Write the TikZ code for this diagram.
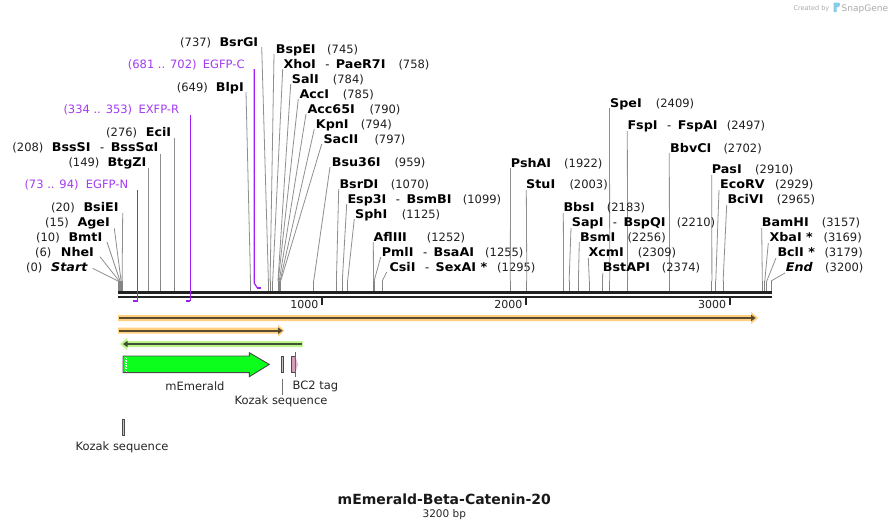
\documentclass[tikz,border=0pt]{standalone}
\usepackage{fontspec}
\setmainfont{DejaVu Sans}
\newfontfamily\enzf{DejaVu Sans}[FakeStretch=1.06]
\usetikzlibrary{arrows.meta}
\definecolor{cutgray}{HTML}{8F8F8F}
\definecolor{stubgray}{HTML}{858585}
\definecolor{barblack}{HTML}{222222}
\definecolor{primc}{HTML}{A43CF0}
\definecolor{primline}{HTML}{A020F0}
\definecolor{orband}{HTML}{FFD080}
\definecolor{ordark}{HTML}{5A4A30}
\definecolor{grband}{HTML}{BEF58C}
\definecolor{grdark}{HTML}{3F5233}
\definecolor{emer}{HTML}{0CFF1C}
\definecolor{outl}{HTML}{4A4A4A}
\definecolor{kozfill}{HTML}{C4C4C4}
\definecolor{bcfill}{HTML}{D29EBA}
\definecolor{bcfill2}{HTML}{E4C0D2}
\definecolor{wm}{HTML}{ABABAB}
\definecolor{logoblue}{HTML}{86CCEA}
\tikzset{
  nm/.style={inner sep=0pt, font=\enzf\bfseries\fontsize{12}{14}\selectfont, text=black},
  nb/.style={inner sep=0pt, font=\fontsize{11.5}{14}\selectfont, text=black!88},
  prim/.style={inner sep=0pt, font=\fontsize{11.5}{14}\selectfont, text=primc},
  flab/.style={inner sep=0pt, font=\fontsize{11.5}{14}\selectfont, text=black!85},
  cut/.style={draw=cutgray, line width=0.8pt},
  stub/.style={draw=stubgray, line width=1pt},
  primln/.style={draw=primline, line width=1.2pt},
  primmark/.style={draw=primline, line width=2pt},
  barline/.style={draw=barblack, line width=2.5pt},
  tickln/.style={draw=barblack, line width=1.8pt},
  ticklab/.style={inner sep=0pt, font=\fontsize{11}{13}\selectfont, text=black!88},
  featout/.style={draw=outl, line width=0.9pt},
}
\newcommand\dsh{\hspace{9.5pt}{\normalfont\fontsize{11.5}{14}\selectfont -}\hspace{6.5pt}}
% left-side label: id, number, numberX, name, nameX, centreY, lineStartX, lineStartY, siteX
\newcommand\enzL[9]{%
  \node[nb, anchor=base west] (#1p) at (#3,#6+4.7) {#2};
  \node[nm, anchor=base west] (#1n) at (#5,#6+4.7) {#4};
  \coordinate (#1s) at (#7,#8);
  \coordinate (#1k) at (#9,281);
  \coordinate (#1b) at (#9,291);
  \draw[cut] (#1s) -- (#1k);
  \draw[stub] (#1k) -- (#1b);
}
% right-side label: id, name, nameX, number, numberX, centreY, lineStartX, lineStartY, siteX
\newcommand\enzR[9]{%
  \node[nm, anchor=base west] (#1n) at (#3,#6+4.7) {#2};
  \node[nb, anchor=base west] (#1p) at (#5,#6+4.7) {#4};
  \coordinate (#1s) at (#7,#8);
  \coordinate (#1k) at (#9,281);
  \coordinate (#1b) at (#9,291);
  \draw[cut] (#1s) -- (#1k);
  \draw[stub] (#1k) -- (#1b);
}
\begin{document}
\begin{tikzpicture}[x=1pt,y=-1pt]
\useasboundingbox (0,0) rectangle (890,530);
\fill[white] (0,0) rectangle (890,530);

% watermark
\node[anchor=base east, text=wm, font=\fontsize{6.5}{8}\selectfont, inner sep=0pt] (wm1) at (829.5,10) {Created by};
\fill[logoblue] (833.5,2.5) -- (838.5,2.5) to[out=0,in=90] (840,5) to[out=-90,in=0] (836.5,7.5) -- (836.5,12) -- (833.5,12) -- cycle;
\node[anchor=base west, text=wm, font=\fontsize{9}{11}\selectfont, inner sep=0pt] (wm2) at (841.5,11) {SnapGene};

% sequence bar
\coordinate (bl1) at (118,292.3); \coordinate (br1) at (771.5,292.3);
\coordinate (bl2) at (118,296.9); \coordinate (br2) at (771.5,296.9);
\draw[barline] (bl1) -- (br1);
\draw[barline] (bl2) -- (br2);

% ticks
\coordinate (t1a) at (322,298); \coordinate (t1b) at (322,304.5);
\coordinate (t2a) at (526,298); \coordinate (t2b) at (526,304.5);
\coordinate (t3a) at (730,298); \coordinate (t3b) at (730,304.5);
\draw[tickln] (t1a) -- (t1b);
\draw[tickln] (t2a) -- (t2b);
\draw[tickln] (t3a) -- (t3b);
\node[ticklab, anchor=base east] (tl1) at (318.5,308.3) {1000};
\node[ticklab, anchor=base east] (tl2) at (522.5,308.3) {2000};
\node[ticklab, anchor=base east] (tl3) at (726.3,308.3) {3000};

% left labels
\enzL{start}{(0)}{26}{\itshape Start}{51}{266.7}{92.7}{268.3}{118}
\enzL{nhe}{(6)}{35}{NheI}{60.7}{251.7}{100}{256.7}{119.2}
\enzL{bmt}{(10)}{36}{BmtI}{68.3}{236.7}{107}{242}{120}
\enzL{age}{(15)}{45}{AgeI}{77.3}{222}{114.3}{228.3}{121.1}
\enzL{bsie}{(20)}{51}{BsiEI}{83.3}{206.7}{122.7}{213}{122.1}
\enzL{btgz}{(149)}{68.3}{BtgZI}{107.3}{162}{148.4}{168}{148.4}
\enzL{bsss}{(208)}{12.3}{BssSI\dsh BssSαI}{51.7}{147}{160.5}{154}{160.5}
\enzL{eci}{(276)}{106}{EciI}{145.7}{131.7}{174.3}{138}{174.3}
\enzL{blp}{(649)}{176.7}{BlpI}{215.7}{87}{246}{92}{250.5}
\enzL{bsrg}{(737)}{180}{BsrGI}{219.3}{41.7}{261.7}{47}{268.4}

% right labels
\enzR{bspe}{BspEI}{275.7}{(745)}{327}{48.7}{274}{54}{270.1}
\enzR{xho}{XhoI\dsh PaeR7I}{283.3}{(758)}{398.3}{64}{282.7}{69}{272.7}
\enzR{sal}{SalI}{291.7}{(784)}{332.7}{79}{290.7}{84}{278}
\enzR{acc}{AccI}{299.3}{(785)}{342.7}{94}{298.3}{99}{278.2}
\enzR{accsf}{Acc65I}{307.3}{(790)}{369.3}{109}{306}{114}{279.2}
\enzR{kpn}{KpnI}{315.7}{(794)}{360.7}{124}{314.3}{129}{280.1}
\enzR{sac}{SacII}{323.3}{(797)}{374.3}{139}{321.7}{144}{280.7}
\enzR{bsu}{Bsu36I}{331.7}{(959)}{394.3}{162}{330}{167}{313.7}
\enzR{bsrd}{BsrDI}{339.3}{(1070)}{390.7}{184}{338.7}{189}{336.4}
\enzR{esp}{Esp3I\dsh BsmBI}{347.3}{(1099)}{462.7}{199}{346.7}{204}{342.3}
\enzR{sph}{SphI}{355}{(1125)}{401.7}{214}{354.3}{219}{347.6}
\enzR{afl}{AflIII}{373.3}{(1252)}{426.7}{237}{373.3}{242}{373.5}
\enzR{pml}{PmlI\dsh BsaAI}{381.7}{(1255)}{485}{252}{380.7}{257}{374.1}
\enzR{csi}{CsiI\dsh SexAI *}{389.3}{(1295)}{497}{267}{386.7}{272}{382.3}
\enzR{psha}{PshAI}{510.7}{(1922)}{564}{162.3}{510.5}{168}{510.3}
\enzR{stu}{StuI}{526}{(2003)}{569.3}{184}{526.3}{190}{526.8}
\enzR{spe}{SpeI}{610}{(2409)}{655.7}{102.3}{609.5}{108}{609.7}
\enzR{fsp}{FspI\dsh FspAI}{627.3}{(2497)}{726.7}{124.3}{627.3}{131}{627.6}
\enzR{bbvc}{BbvCI}{670}{(2702)}{723.3}{147.3}{669.3}{153}{669.5}
\enzR{pas}{PasI}{711.7}{(2910)}{755}{169}{711.7}{175}{711.9}
\enzR{ecorv}{EcoRV}{720}{(2929)}{775}{184}{719}{190}{715.8}
\enzR{bcivi}{BciVI}{727.3}{(2965)}{776.7}{199}{726.7}{205}{723.1}
\enzR{bbs}{BbsI}{563.3}{(2183)}{606.7}{207}{563.3}{213}{563.6}
\enzR{sap}{SapI\dsh BspQI}{571.7}{(2210)}{676.7}{222}{571}{228}{569.1}
\enzR{bsm}{BsmI}{580}{(2256)}{627.3}{237}{579.3}{242}{578.4}
\enzR{xcm}{XcmI}{588.3}{(2309)}{637.7}{252}{588.3}{258}{589.3}
\enzR{bstap}{BstAPI}{602.7}{(2374)}{661.7}{267}{602.7}{273}{602.5}
\enzR{bamh}{BamHI}{761.7}{(3157)}{821.7}{222}{761.7}{228}{762.3}
\enzR{xba}{XbaI *}{769.3}{(3169)}{823.3}{237}{768.3}{243}{764.8}
\enzR{bcl}{BclI *}{777.3}{(3179)}{824.3}{252}{776}{258}{766.8}
\enzR{endl}{\itshape End}{785.7}{(3200)}{825}{267}{785}{273}{771.1}

% primers
\node[prim, anchor=base west] (pnN) at (24.3,188.7) {(73 .. 94)};
\node[prim, anchor=base west] (pnNl) at (85.7,188.7) {EGFP-N};
\coordinate (pnNs) at (137.5,190); \coordinate (pnNe) at (137.5,300.7); \coordinate (pnNm) at (132.9,300.7);
\draw[primln] (pnNs) -- (pnNe);
\draw[primmark] (pnNm) -- (pnNe);

\node[prim, anchor=base west] (pnR) at (63.3,113.7) {(334 .. 353)};
\node[prim, anchor=base west] (pnRl) at (138.3,113.7) {EXFP-R};
\coordinate (pnRs) at (190.3,115); \coordinate (pnRe) at (190.3,300.7); \coordinate (pnRm) at (186.2,300.7);
\draw[primln] (pnRs) -- (pnRe);
\draw[primmark] (pnRm) -- (pnRe);

\node[prim, anchor=base west] (pnC) at (127.7,68.7) {(681 .. 702)};
\node[prim, anchor=base west] (pnCl) at (202.7,68.7) {EGFP-C};
\coordinate (pnCs) at (254.2,69); \coordinate (pnCk) at (254.2,283); \coordinate (pnCe) at (257,287.5); \coordinate (pnCm) at (261.3,287.5);
\draw[primln] (pnCs) -- (pnCk) -- (pnCe);
\draw[primmark] (pnCe) -- (pnCm);

% feature bands
\fill[orband] (118,315) -- (751,315) -- (751,312) -- (758.3,318) -- (751,324) -- (751,321) -- (118,321) -- cycle;
\coordinate (o1a) at (119,318); \coordinate (o1b) at (755.7,318);
\draw[ordark, line width=1.6pt, -{Triangle[length=4.5pt,width=6pt]}] (o1a) -- (o1b);

\fill[orband] (118,327.7) -- (278,327.7) -- (278,324.7) -- (284.3,330.7) -- (278,336.7) -- (278,333.7) -- (118,333.7) -- cycle;
\coordinate (o2a) at (119,330.7); \coordinate (o2b) at (282.7,330.7);
\draw[ordark, line width=1.6pt, -{Triangle[length=4.5pt,width=6pt]}] (o2a) -- (o2b);

\fill[grband] (302.7,341) -- (127,341) -- (127,338) -- (120,344) -- (127,350) -- (127,347) -- (302.7,347) -- cycle;
\coordinate (g1a) at (301.5,344); \coordinate (g1b) at (123,344);
\draw[grdark, line width=1.6pt, -{Triangle[length=4.5pt,width=6pt]}] (g1a) -- (g1b);

% mEmerald arrow
\draw[featout, fill=emer] (123,356) -- (249.3,356) -- (249.3,352.7) -- (269.3,364.4) -- (249.3,376.7) -- (249.3,372.6) -- (123,372.6) -- cycle;
\draw[white, line width=0.8pt, dash pattern=on 1.3pt off 1.3pt] (124.9,357) -- (124.9,372);
\draw[white, line width=0.8pt, dash pattern=on 1.3pt off 1.3pt] (126.8,357.6) -- (126.8,372);
\node[flab, anchor=base] (emlab) at (195,390.5) {mEmerald};

% Kozak sequence (near 800)
\draw[featout, fill=kozfill] (281.2,356.5) rectangle (283.8,372.5);
\coordinate (kz1a) at (282.5,379); \coordinate (kz1b) at (282.5,394.5);
\draw[draw=black!55, line width=0.8pt] (kz1a) -- (kz1b);
\node[flab, anchor=base] (kz1) at (281,404) {Kozak sequence};

% BC2 tag
\fill[bcfill2] (295.3,356.5) -- (298.2,364.5) -- (295.3,372.5) -- cycle;
\draw[featout, fill=bcfill] (291,356.5) rectangle (295.3,372.5);
\coordinate (bcta) at (295.3,352); \coordinate (bctb) at (295.3,377);
\draw[draw=black!60, line width=0.7pt] (bcta) -- (bctb);
\node[flab, anchor=base west] (bclab) at (292.5,389.6) {BC2 tag};

% Kozak sequence (start)
\draw[featout, fill=kozfill] (122.6,419.2) rectangle (124.9,435.3);
\node[flab, anchor=base] (kz2) at (122,450.5) {Kozak sequence};

% title
\node[inner sep=0pt, anchor=base, font=\bfseries\fontsize{14}{16}\selectfont, text=black!90] (title) at (444.3,504) {mEmerald-Beta-Catenin-20};
\node[inner sep=0pt, anchor=base, font=\fontsize{10.5}{12}\selectfont, text=black!85] (len) at (444.3,517.5) {3200 bp};
\end{tikzpicture}
\end{document}
